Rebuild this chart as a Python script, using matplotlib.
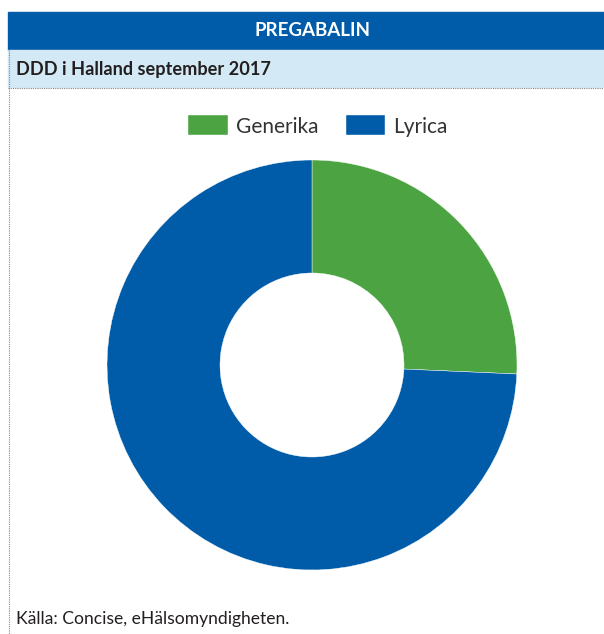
import matplotlib.pyplot as plt
from matplotlib.patches import Rectangle
from matplotlib.lines import Line2D

W, H = 604, 634

title = "PREGABALIN"
subtitle = "DDD i Halland september 2017"
source = "Källa: Concise, eHälsomyndigheten."

labels = ["Generika", "Lyrica"]
shares = [25.7, 74.3]
colors = ["#4BA441", "#005CA9"]

HEADER_BLUE = "#005CA9"
LIGHT_BLUE = "#D3E9F6"

plt.rcParams["font.family"] = ["Lato", "DejaVu Sans"]

fig = plt.figure(figsize=(W / 100, H / 100), dpi=100)


def fx(px):
    return px / W


def fy(py):
    # pixel y from top -> figure fraction
    return 1 - py / H


# header bars
fig.patches.append(Rectangle((fx(8), fy(50)), fx(W - 8), 38 / H,
                             transform=fig.transFigure, color=HEADER_BLUE, zorder=0))
fig.patches.append(Rectangle((fx(8), fy(87)), fx(W - 8), 37 / H,
                             transform=fig.transFigure, color=LIGHT_BLUE, zorder=0))
fig.text(fx(312), fy(31), title, color="white", fontsize=13.5, fontweight="bold",
         ha="center", va="center")
fig.text(fx(16), fy(69), subtitle, color="#231F20", fontsize=13.1, fontweight="bold",
         ha="left", va="center")

# dotted frame lines
fig.lines.append(Line2D([fx(8), 1], [fy(87.5), fy(87.5)], transform=fig.transFigure,
                        color="#888888", lw=0.8, ls=(0, (1, 1))))
fig.lines.append(Line2D([fx(8.5), fx(8.5)], [fy(50), 0], transform=fig.transFigure,
                        color="#888888", lw=0.8, ls=(0, (1, 1))))

# donut
cx, cy, r_out, r_in = 312, 365, 205, 92
ax = fig.add_axes([fx(cx - r_out), fy(cy + r_out), 2 * r_out / W, 2 * r_out / H])
wedges, _ = ax.pie(shares, colors=colors, startangle=90, counterclock=False,
                   radius=1, wedgeprops=dict(width=(r_out - r_in) / r_out,
                                             edgecolor="white", linewidth=0.3))
ax.set_xlim(-1, 1)
ax.set_ylim(-1, 1)
ax.set_aspect("equal")
ax.axis("off")

# legend
fig.legend(wedges, labels, loc="center", bbox_to_anchor=(fx(318), fy(126)),
           ncol=2, frameon=False, fontsize=15, handlelength=1.9, handleheight=1.1,
           handletextpad=0.4, columnspacing=1.3, labelcolor="#333333")

fig.text(fx(16), fy(619), source, color="#231F20", fontsize=12.6, ha="left", va="center")

fig.savefig("out.png", dpi=100)
